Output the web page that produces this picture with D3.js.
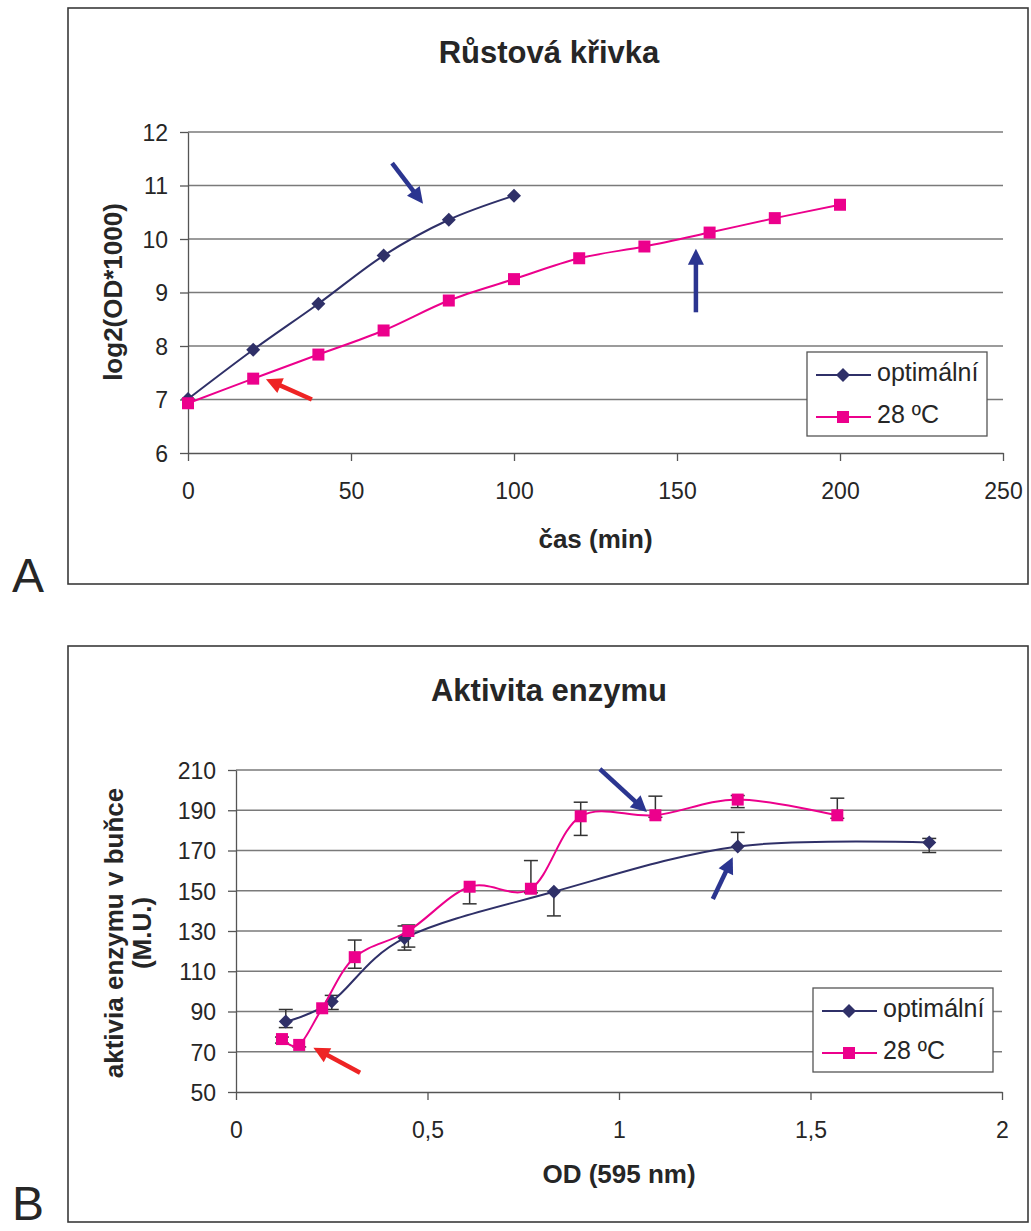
<!DOCTYPE html>
<html>
  <head>
    <title></title>
    <script src="https://cdnjs.cloudflare.com/ajax/libs/d3/7.8.5/d3.min.js"></script>
    <style>
      body { margin: 0; background: #fff; }
      text { font-family: "Liberation Sans", Arial, sans-serif; fill: #262626; }
    </style>
  </head>
  <body>
    <script type="text/javascript">

    // chart A - growth curve
    let timeOpt = [0, 20, 40, 60, 80, 100]
    let logOpt = [7.01, 7.93, 8.79, 9.69, 10.36, 10.81]
    let time28 = [0, 20, 40, 60, 80, 100, 120, 140, 160, 180, 200]
    let log28 = [6.93, 7.39, 7.84, 8.29, 8.85, 9.25, 9.64, 9.86, 10.12, 10.39, 10.64]
    let xTicksA = [0, 50, 100, 150, 200, 250]
    let yTicksA = [6, 7, 8, 9, 10, 11, 12]
    // arrows: [x1, y1, x2, y2] in data units, head at the end
    let arrowsA = [
      [62.6, 11.42, 72.1, 10.66, "blue"],
      [38, 7.0, 23.9, 7.38, "red"],
      [155.8, 8.63, 155.8, 9.82, "blue"]
    ]

    // chart B - enzyme activity
    let odOpt = [0.13, 0.25, 0.44, 0.83, 1.31, 1.81]
    let actOpt = [85, 95, 126.5, 149.5, 172, 174]
    let errOptUp = [6, 3, 6, 0, 7, 2]
    let errOptDown = [3, 4, 6, 12, 0, 5]
    let od28 = [0.12, 0.165, 0.225, 0.31, 0.45, 0.61, 0.77, 0.9, 1.095, 1.31, 1.57]
    let act28 = [76.3, 73.4, 91.6, 117, 130, 152, 151, 187, 187.5, 195.3, 187.5]
    let err28Up = [1, 0, 0, 8.5, 3, 0, 14, 7, 9.5, 2, 8.5]
    let err28Down = [2, 1, 0, 5.5, 8, 8.5, 2, 9.5, 1, 4, 1.5]
    let xTicksB = [0, 0.5, 1, 1.5, 2]
    let yTicksB = [50, 70, 90, 110, 130, 150, 170, 190, 210]
    let arrowsB = [
      [0.95, 210.5, 1.073, 189.1, "blue"],
      [1.245, 145.9, 1.297, 166.6, "blue"],
      [0.324, 59.6, 0.202, 72.0, "red"]
    ]

    let seriesNames = ["optimální", "28 ºC"]
    let navy = "#2f3068"
    let pink = "#ec008c"
    let arrowColors = { blue: "#2b3590", red: "#ee2424" }

    let svg = d3.select("body").append("svg")
      .attr("width", 1031)
      .attr("height", 1231)

    function diamond(s) {
      return "M0," + (-s) + "L" + s + ",0L0," + s + "L" + (-s) + ",0Z"
    }

    let fmt = d => String(d).replace(".", ",")

    function drawChart(c) {
      let g = svg.append("g")

      // outer frame
      g.append("rect")
        .attr("x", c.box[0]).attr("y", c.box[1])
        .attr("width", c.box[2]).attr("height", c.box[3])
        .attr("fill", "#fff").attr("stroke", "#3a3a3a").attr("stroke-width", 1.6)

      g.append("text")
        .attr("x", 12).attr("y", c.letterY)
        .attr("font-size", 48)
        .text(c.letter)

      g.append("text")
        .attr("x", 549).attr("y", c.box[1] + 55)
        .attr("text-anchor", "middle")
        .attr("font-size", 31).attr("font-weight", "bold")
        .text(c.title)

      let x = d3.scaleLinear().domain(c.xDomain).range([c.left, c.right])
      let y = d3.scaleLinear().domain(c.yDomain).range([c.bottom, c.top])

      // gridlines
      g.selectAll(".grid").data(c.yTicks.slice(1)).enter().append("line")
        .attr("x1", c.left).attr("x2", c.right)
        .attr("y1", d => y(d)).attr("y2", d => y(d))
        .attr("stroke", "#7a7a7a").attr("stroke-width", 1.3)

      let yAxis = g.append("g")
        .attr("transform", "translate(" + c.left + ",0)")
        .call(d3.axisLeft(y).tickValues(c.yTicks).tickSize(8).tickPadding(12).tickSizeOuter(0)
          .tickFormat(fmt))
      let xAxis = g.append("g")
        .attr("transform", "translate(0," + c.bottom + ")")
        .call(d3.axisBottom(x).tickValues(c.xTicks).tickSize(8).tickPadding(22).tickSizeOuter(0)
          .tickFormat(fmt))
      ;[yAxis, xAxis].forEach(a => {
        a.selectAll("path, line").attr("stroke", "#555").attr("stroke-width", 1.3)
        a.selectAll("text").attr("font-size", 23).attr("fill", "#262626")
          .attr("font-family", "Liberation Sans, Arial, sans-serif")
      })
      yAxis.selectAll("text").attr("dy", "0.36em")

      // axis titles
      g.append("text")
        .attr("x", (c.left + c.right) / 2).attr("y", c.xLabelY)
        .attr("text-anchor", "middle")
        .attr("font-size", 26).attr("font-weight", "bold")
        .text(c.xLabel)
      c.yLabel.forEach((t, i) => {
        g.append("text")
          .attr("transform", "translate(" + c.yLabelX[i] + "," + c.yLabelMid + ") rotate(-90)")
          .attr("text-anchor", "middle")
          .attr("font-size", 26).attr("font-weight", "bold")
          .text(t)
      })

      let line = d3.line()
        .x(d => x(d[0]))
        .y(d => y(d[1]))
        .curve(d3.curveCardinal.tension(0))

      // error bars
      if (c.errors) {
        c.errors.forEach(e => {
          e.xs.forEach((xv, i) => {
            let yv = e.ys[i]
            let hi = yv + e.up[i], lo = yv - e.down[i]
            if (hi === lo) return
            g.append("line")
              .attr("x1", x(xv)).attr("x2", x(xv))
              .attr("y1", y(hi)).attr("y2", y(lo))
              .attr("stroke", "#333").attr("stroke-width", 1.5)
            ;[e.up[i] > 0 ? hi : null, e.down[i] > 0 ? lo : null].forEach(v => {
              if (v === null) return
              g.append("line")
                .attr("x1", x(xv) - 7).attr("x2", x(xv) + 7)
                .attr("y1", y(v)).attr("y2", y(v))
                .attr("stroke", "#333").attr("stroke-width", 1.5)
            })
          })
        })
      }

      c.series.forEach(s => {
        let pts = s.xs.map((d, i) => [d, s.ys[i]])
        g.append("path")
          .attr("d", line(pts))
          .attr("fill", "none").attr("stroke", s.color).attr("stroke-width", 2)
        pts.forEach(p => {
          if (s.shape === "diamond") {
            g.append("path")
              .attr("transform", "translate(" + x(p[0]) + "," + y(p[1]) + ")")
              .attr("d", diamond(7)).attr("fill", s.color)
          } else {
            g.append("rect")
              .attr("x", x(p[0]) - 6).attr("y", y(p[1]) - 6)
              .attr("width", 12).attr("height", 12).attr("fill", s.color)
          }
        })
      })

      // arrows
      c.arrows.forEach(a => {
        let x1 = x(a[0]), y1 = y(a[1]), x2 = x(a[2]), y2 = y(a[3])
        let ang = Math.atan2(y2 - y1, x2 - x1)
        let headL = 16, headW = 8
        let bx = x2 - headL * Math.cos(ang), by = y2 - headL * Math.sin(ang)
        let col = arrowColors[a[4]]
        g.append("line")
          .attr("x1", x1).attr("y1", y1).attr("x2", bx + 3 * Math.cos(ang)).attr("y2", by + 3 * Math.sin(ang))
          .attr("stroke", col).attr("stroke-width", 4.5)
        let px = -Math.sin(ang) * headW, py = Math.cos(ang) * headW
        g.append("path")
          .attr("d", "M" + x2 + "," + y2 + "L" + (bx + px) + "," + (by + py) +
            "L" + (bx - px) + "," + (by - py) + "Z")
          .attr("fill", col)
      })

      // legend
      let lg = g.append("g").attr("transform", "translate(" + c.legend[0] + "," + c.legend[1] + ")")
      lg.append("rect").attr("width", 180).attr("height", 84)
        .attr("fill", "#fff").attr("stroke", "#555").attr("stroke-width", 1.3)
      c.series.forEach((s, i) => {
        let ly = 23 + i * 42
        lg.append("line").attr("x1", 9).attr("x2", 64).attr("y1", ly).attr("y2", ly)
          .attr("stroke", s.color).attr("stroke-width", 2)
        if (s.shape === "diamond") {
          lg.append("path").attr("transform", "translate(36," + ly + ")")
            .attr("d", diamond(7)).attr("fill", s.color)
        } else {
          lg.append("rect").attr("x", 30).attr("y", ly - 6)
            .attr("width", 12).attr("height", 12).attr("fill", s.color)
        }
        lg.append("text").attr("x", 70).attr("y", ly + 6)
          .attr("font-size", 25).text(seriesNames[i])
      })
    }

    drawChart({
      box: [68, 8, 960, 576], letter: "A", letterY: 592, title: "Růstová křivka",
      left: 188, right: 1003, top: 132, bottom: 453,
      xDomain: [0, 250], yDomain: [6, 12], xTicks: xTicksA, yTicks: yTicksA,
      xLabel: "čas (min)", xLabelY: 548,
      yLabel: ["log2(OD*1000)"], yLabelX: [122], yLabelMid: 292,
      series: [
        { xs: timeOpt, ys: logOpt, color: navy, shape: "diamond" },
        { xs: time28, ys: log28, color: pink, shape: "square" }
      ],
      arrows: arrowsA,
      legend: [807, 352]
    })

    drawChart({
      box: [68, 646, 960, 576], letter: "B", letterY: 1220, title: "Aktivita enzymu",
      left: 236, right: 1002, top: 770, bottom: 1092,
      xDomain: [0, 2], yDomain: [50, 210], xTicks: xTicksB, yTicks: yTicksB,
      xLabel: "OD (595 nm)", xLabelY: 1183,
      yLabel: ["aktivia enzymu v buňce", "(M.U.)"], yLabelX: [123, 151], yLabelMid: 933,
      series: [
        { xs: odOpt, ys: actOpt, color: navy, shape: "diamond" },
        { xs: od28, ys: act28, color: pink, shape: "square" }
      ],
      errors: [
        { xs: odOpt, ys: actOpt, up: errOptUp, down: errOptDown },
        { xs: od28, ys: act28, up: err28Up, down: err28Down }
      ],
      arrows: arrowsB,
      legend: [813, 988]
    })

    </script>
  </body>
</html>
